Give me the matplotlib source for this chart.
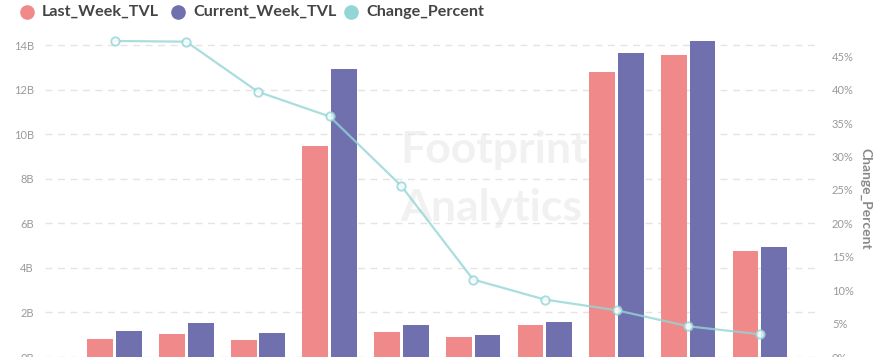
import matplotlib
matplotlib.use("Agg")
import matplotlib.pyplot as plt
import numpy as np
from matplotlib.lines import Line2D

categories = ["A", "B", "C", "D", "E", "F", "G", "H", "I", "J"]
last_week_tvl = [0.80, 1.03, 0.77, 9.50, 1.13, 0.88, 1.43, 12.79, 13.56, 4.77]   # billions
current_week_tvl = [1.18, 1.52, 1.08, 12.93, 1.42, 0.98, 1.56, 13.68, 14.20, 4.94]
change_percent = [47.3, 47.2, 39.7, 36.0, 25.6, 11.6, 8.6, 7.0, 4.6, 3.4]
left_ticks = [0, 2, 4, 6, 8, 10, 12, 14]
right_ticks = [0, 5, 10, 15, 20, 25, 30, 35, 40, 45]
series_names = ["Last_Week_TVL", "Current_Week_TVL", "Change_Percent"]

PINK = "#F08A8A"
PURPLE = "#7070AE"
CYAN = "#94D5D6"
TICK = "#9a9a9a"

plt.rcParams['font.family'] = ['Lato', 'DejaVu Sans']

fig = plt.figure(figsize=(8.83, 3.57), dpi=100)
W, H = 883, 357

# watermark (behind everything)
fig.text(400 / W, 1 - 150 / H, "Footprint", fontsize=32, fontweight='bold',
         color="#f1f1f1", ha='left', va='center', zorder=0)
fig.text(400 / W, 1 - 208 / H, "Analytics", fontsize=32, fontweight='bold',
         color="#f1f1f1", ha='left', va='center', zorder=0)

ax = fig.add_axes([45 / W, 0, (818 - 45) / W, (357 - 41) / H], zorder=1)
ax.patch.set_visible(False)
ax2 = ax.twinx()

x = np.arange(len(categories))
bw = 0.36
ax.bar(x - 0.2, last_week_tvl, width=bw, color=PINK, zorder=2)
ax.bar(x + 0.2, current_week_tvl, width=bw, color=PURPLE, zorder=2)

ax.set_xlim(-0.97, 9.81)
ax.set_ylim(0, max(current_week_tvl))
ax.set_yticks(left_ticks)
ax.set_yticklabels([f"{v}B" for v in left_ticks])
ax.yaxis.grid(True, linestyle=(0, (5, 4)), color="#e4e4e4", linewidth=1)
ax.set_axisbelow(True)
ax.set_xticks([])
for s in ax.spines.values():
    s.set_visible(False)
ax.tick_params(axis='y', length=0, pad=8, labelsize=8, labelcolor=TICK)

ax2.set_ylim(0, max(change_percent))
ax2.set_yticks(right_ticks)
ax2.set_yticklabels([f"{v}%" for v in right_ticks])
ax2.tick_params(axis='y', length=0, pad=10, labelsize=8, labelcolor=TICK)
for s in ax2.spines.values():
    s.set_visible(False)
ax2.plot(x, change_percent, color=CYAN, linewidth=1.6, alpha=0.8, marker='o',
         markersize=6, markerfacecolor='white', markeredgecolor=CYAN,
         markeredgewidth=1.4, zorder=5, clip_on=False)
ax2.set_ylabel("Change_Percent", rotation=270, color="#8a8a8a", fontsize=10,
               fontweight='bold', labelpad=13)
ax2.patch.set_visible(False)

# legend, placed manually
leg_colors = [PINK, PURPLE, CYAN]
dot_x = [27, 178, 351]
ly = 1 - 12 / H
for name, c, dx in zip(series_names, leg_colors, dot_x):
    fig.add_artist(Line2D([dx / W], [ly], marker='o', markersize=9.5, color=c,
                          linestyle='', transform=fig.transFigure))
    fig.text((dx + 15) / W, ly, name, fontsize=11.6, fontweight='bold',
             color="#444444", ha='left', va='center')

fig.savefig("out.png", dpi=100)
